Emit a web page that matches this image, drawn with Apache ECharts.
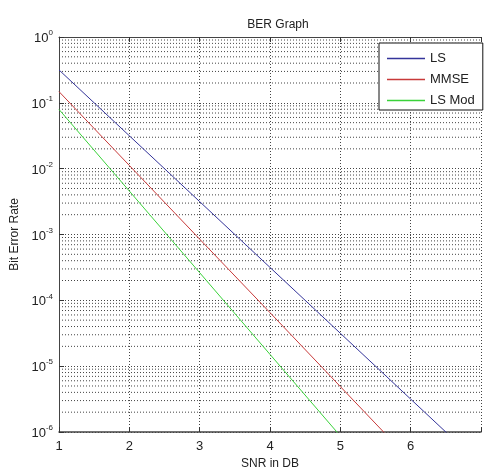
<!DOCTYPE html>
<html>
<head>
<meta charset="utf-8">
<script src="https://cdn.jsdelivr.net/npm/echarts@6/dist/echarts.min.js"></script>
<style>html,body{margin:0;padding:0;background:#fff}#c{width:484px;height:475px}</style>
</head>
<body>
<div id="c"></div>
<script>
// Data
var snr = [1, 2, 3, 4, 5, 6, 7];
var berLS = [0.316, 0.0316, 0.00316, 0.000316, 3.16e-5, 3.16e-6, 3.16e-7];
var berMMSE = [0.148, 0.0112, 8.5e-4, 6.5e-5, 4.9e-6, 3.7e-7, 2.8e-8];
var berLSMod = [0.0794, 0.00457, 2.63e-4, 1.51e-5, 8.7e-7, 5.0e-8, 2.9e-9];
var xTicks = [1, 2, 3, 4, 5, 6];
var decades = [1e-6, 1e-5, 1e-4, 1e-3, 1e-2, 1e-1, 1];
var minorMultipliers = [2, 3, 4, 5, 6, 7, 8, 9];
var seriesNames = ['LS', 'MMSE', 'LS Mod'];
var seriesColors = ['#34349a', '#c83a3a', '#3ad23a'];

var FONT = 'Liberation Sans';
function pairs(ys) { return snr.map(function (x, i) { return [x, ys[i]]; }); }

// minor log grid lines as broken line segments across the x range
var minorData = [];
decades.slice(0, 6).forEach(function (d) {
  minorMultipliers.forEach(function (m) {
    var v = d * m;
    minorData.push([snr[0], v], [snr[snr.length - 1], v], [snr[snr.length - 1], '-']);
  });
});

var chart = echarts.init(document.getElementById('c'), null, { renderer: 'canvas' });
var dotted = { color: '#444', width: 1, type: [1, 2] };

chart.setOption({
  animation: false,
  backgroundColor: '#fff',
  textStyle: { fontFamily: FONT },
  title: {
    text: 'BER Graph', left: 273, top: 14, textAlign: 'center',
    textStyle: { fontFamily: FONT, fontSize: 12, fontWeight: 'normal', color: '#222' }
  },
  grid: { left: 59, right: -3, top: 37, bottom: 41, containLabel: false },
  legend: {
    orient: 'vertical', left: 379, top: 43,
    data: seriesNames.map(function (n, i) {
      return { name: n, itemStyle: { color: seriesColors[i], borderWidth: 0 }, lineStyle: { width: 0 } };
    }),
    icon: 'rect', itemWidth: 38, itemHeight: 1.5, itemGap: 8,
    padding: [9, 8, 3, 8],
    borderColor: '#111', borderWidth: 1, backgroundColor: '#fff',
    textStyle: { fontFamily: FONT, fontSize: 13, color: '#222', lineHeight: 13 }
  },
  xAxis: [{
    type: 'value', min: 1, max: 7, interval: 1,
    name: 'SNR in DB', nameLocation: 'middle', nameGap: 26,
    nameTextStyle: { fontFamily: FONT, fontSize: 12, color: '#222' },
    axisLine: { show: true, lineStyle: { color: '#444', width: 1.5 } },
    axisTick: { show: true, inside: true, length: 5, lineStyle: { color: '#333' } },
    axisLabel: {
      fontFamily: FONT, fontSize: 13, color: '#222', margin: 8,
      formatter: function (v) { return xTicks.indexOf(v) >= 0 ? String(v) : ''; }
    },
    splitLine: { show: true, lineStyle: dotted }
  }, {
    type: 'value', min: 1, max: 7, interval: 1, position: 'top',
    axisLine: { show: true, lineStyle: { color: '#444', width: 1 } },
    axisTick: { show: true, inside: true, length: 5, lineStyle: { color: '#333' } },
    axisLabel: { show: false }, splitLine: { show: false }
  }],
  yAxis: {
    type: 'log', logBase: 10, min: 1e-6, max: 1,
    name: 'Bit Error Rate', nameLocation: 'middle', nameGap: 32, nameRotate: 90,
    nameTextStyle: { fontFamily: FONT, fontSize: 12, color: '#222' },
    axisLine: { show: true, lineStyle: { color: '#444', width: 1 } },
    axisTick: { show: true, inside: true, length: 5, lineStyle: { color: '#333' } },
    axisLabel: {
      margin: 6,
      formatter: function (v) {
        var e = Math.round(Math.log10(v));
        return '{b|10}{s|' + e + '}';
      },
      rich: {
        b: { fontFamily: FONT, fontSize: 13, color: '#222', lineHeight: 16, verticalAlign: 'bottom' },
        s: { fontFamily: FONT, fontSize: 8, color: '#222', lineHeight: 16, verticalAlign: 'top', padding: [0, 0, 9, 0] }
      }
    },
    splitLine: { show: true, lineStyle: dotted }
  },
  series: [
    {
      name: 'minor', type: 'line', data: minorData, silent: true, connectNulls: false,
      showSymbol: false, symbol: 'none', z: 1,
      lineStyle: dotted, emphasis: { disabled: true }
    },
    { name: seriesNames[0], type: 'line', data: pairs(berLS), showSymbol: false, symbol: 'none', clip: true, z: 5,
      lineStyle: { color: seriesColors[0], width: 1 }, itemStyle: { color: seriesColors[0] } },
    { name: seriesNames[1], type: 'line', data: pairs(berMMSE), showSymbol: false, symbol: 'none', clip: true, z: 5,
      lineStyle: { color: seriesColors[1], width: 1 }, itemStyle: { color: seriesColors[1] } },
    { name: seriesNames[2], type: 'line', data: pairs(berLSMod), showSymbol: false, symbol: 'none', clip: true, z: 5,
      lineStyle: { color: seriesColors[2], width: 1 }, itemStyle: { color: seriesColors[2] } }
  ]
});
</script>
</body>
</html>
